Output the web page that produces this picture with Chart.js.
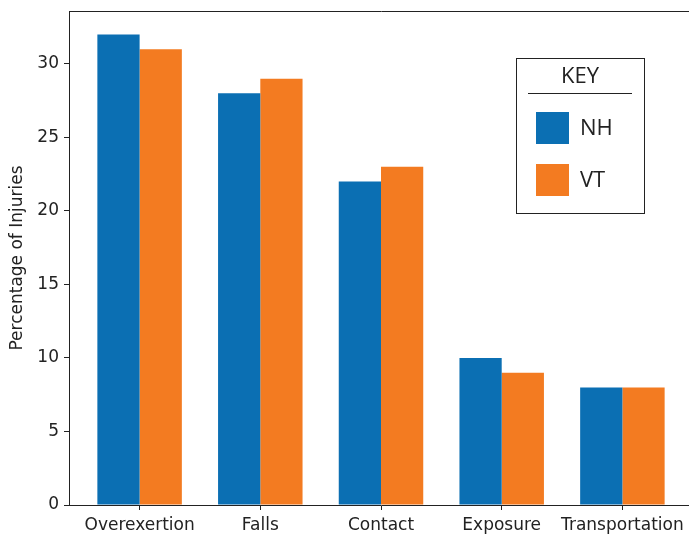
<!DOCTYPE html>
<html>
<head>
<meta charset="utf-8">
<script src="https://cdn.jsdelivr.net/npm/chart.js@4/dist/chart.umd.min.js"></script>
<style>
  html, body { margin: 0; padding: 0; background: #fff; overflow: hidden; }
  #wrap { width: 700px; height: 535px; position: relative; }
</style>
</head>
<body>
<div id="wrap"><canvas id="bar-chartcanvas"></canvas></div>
<script>
var categories = ["Overexertion", "Falls", "Contact", "Exposure", "Transportation"];
var nhValues = [32, 28, 22, 10, 8];
var vtValues = [31, 29, 23, 9, 8];
var yTicks = [0, 5, 10, 15, 20, 25, 30];

var toPoints = function(vals){
	var pts = [];
	for (var i = 0; i < vals.length; i++) {
		pts.push({ x : i, y : vals[i] });
	}
	return pts;
};

// frame round the plot + the KEY box
var framePlugin = {
	id : "frame",
	afterDraw : function(chart){
		var c = chart.ctx;
		var a = chart.chartArea;
		c.save();
		c.strokeStyle = "#222";
		c.lineWidth = 1;
		c.beginPath();
		c.moveTo(Math.round(a.left) + 0.5, Math.round(a.top) + 0.5);
		c.lineTo(Math.round(a.right) + 0.5, Math.round(a.top) + 0.5);
		c.stroke();

		var bx = 516, by = 58, bw = 128, bh = 155;
		c.fillStyle = "#fff";
		c.fillRect(bx, by, bw, bh);
		c.strokeRect(bx + 0.5, by + 0.5, bw, bh);

		c.fillStyle = "#222";
		c.font = "22px 'Open Sans'";
		c.textAlign = "center";
		c.textBaseline = "middle";
		c.fillText("KEY", 580, 77);
		c.beginPath();
		c.moveTo(528, 93.5);
		c.lineTo(632, 93.5);
		c.stroke();

		var ds = chart.data.datasets;
		c.textAlign = "left";
		for (var i = 0; i < ds.length; i++) {
			var y = 112 + i * 52;
			c.fillStyle = ds[i].backgroundColor;
			c.fillRect(536, y, 33, 32);
			c.fillStyle = "#222";
			c.fillText(ds[i].label, 580, y + 17);
		}
		c.restore();
	}
};

var ctx = document.getElementById("bar-chartcanvas");

var data = {
	datasets : [
		{
			label : "NH",
			data : toPoints(nhValues),
			backgroundColor : "#0b6fb3",
			borderWidth : 0,
			categoryPercentage : 0.7,
			barPercentage : 1.0
		},{
			label : "VT",
			data : toPoints(vtValues),
			backgroundColor : "#f37b21",
			borderWidth : 0,
			categoryPercentage : 0.7,
			barPercentage : 1.0
		}
	]
};

var options = {
	responsive : true,
	maintainAspectRatio : false,
	animation : false,
	layout : { padding : { top : 11, right : 7, left : 0, bottom : 0 } },
	plugins : {
		legend : { display : false },
		tooltip : { enabled : false },
		title : { display : false }
	},
	scales : {
		x : {
			type : "linear",
			min : -0.585,
			max : 4.585,
			offset : false,
			grid : { offset : false, drawOnChartArea : false, tickLength : 5, tickColor : "#222" },
			border : { color : "#222", width : 1 },
			afterBuildTicks : function(scale){
				scale.ticks = categories.map(function(c, i){ return { value : i }; });
			},
			afterFit : function(scale){
				scale.height = 30;
				scale.paddingLeft = 0;
				scale.paddingRight = 0;
			},
			ticks : {
				autoSkip : false,
				maxRotation : 0,
				padding : 5,
				color : "#222",
				font : { family : "'DejaVu Sans'", size : 17 },
				callback : function(v){ return categories[v]; }
			}
		},
		y : {
			min : 0,
			max : 33.6,
			grid : { drawOnChartArea : false, tickLength : 5, tickColor : "#222" },
			border : { color : "#222", width : 1 },
			afterBuildTicks : function(scale){
				scale.ticks = yTicks.map(function(v){ return { value : v }; });
			},
			afterFit : function(scale){
				scale.width = 69;
				scale.paddingTop = 0;
				scale.paddingBottom = 0;
			},
			ticks : {
				padding : 5,
				color : "#222",
				font : { family : "'DejaVu Sans'", size : 17 }
			},
			title : {
				display : true,
				text : "Percentage of Injuries",
				color : "#222",
				font : { family : "'DejaVu Sans'", size : 17 },
				padding : { top : 7, bottom : 0 }
			}
		}
	}
};

var chart = new Chart(ctx, {
	type : "bar",
	data : data,
	options : options,
	plugins : [framePlugin]
});
</script>
</body>
</html>
